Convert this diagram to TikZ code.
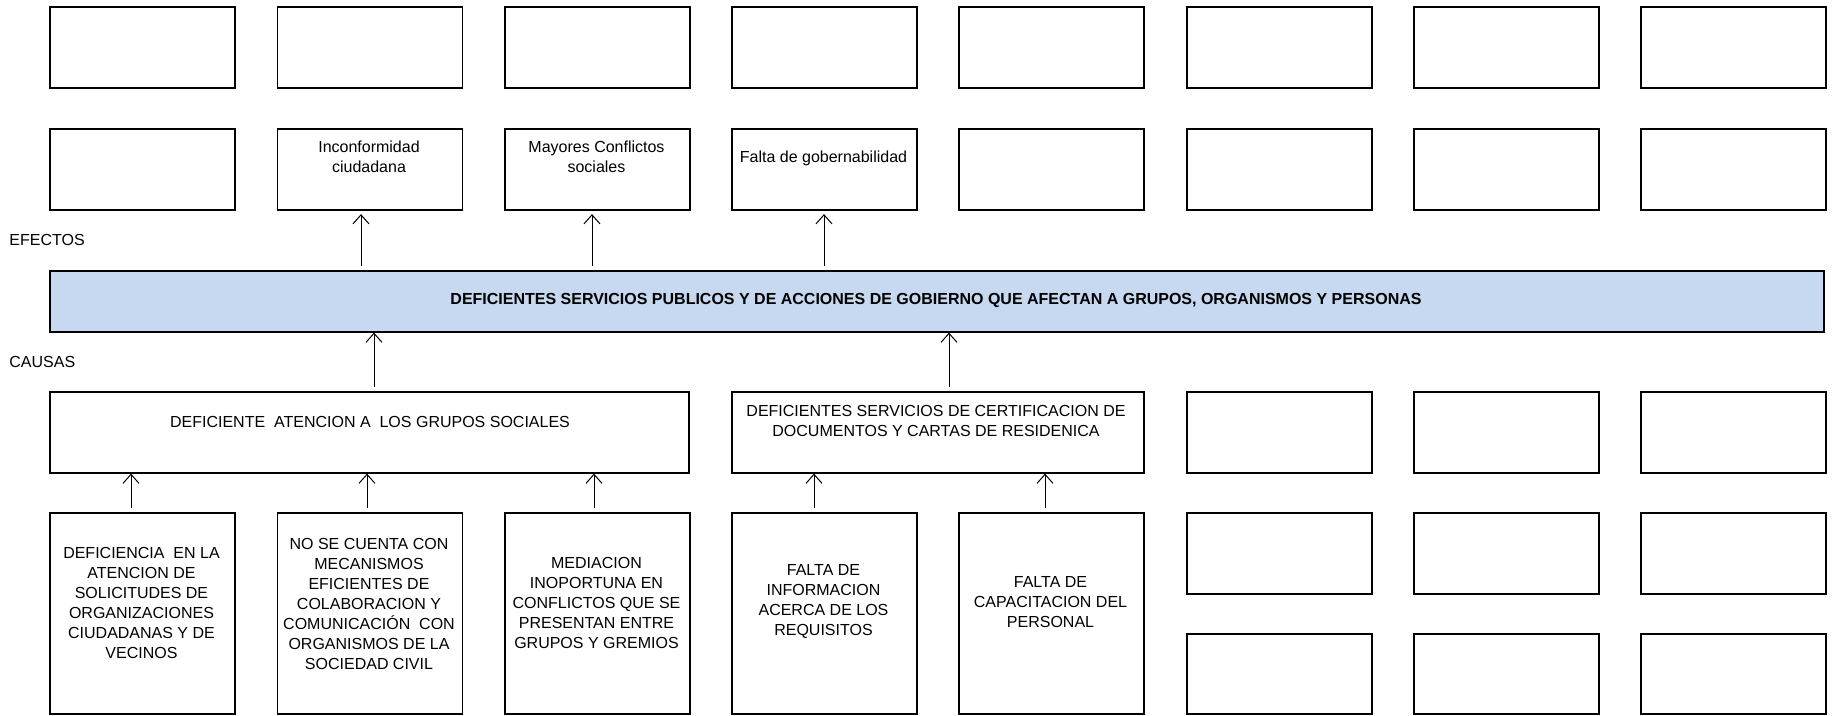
\documentclass[tikz,border=0pt]{standalone}
\usepackage{fontspec}
\setmainfont{Liberation Sans}
\usetikzlibrary{arrows.meta}
\definecolor{barblue}{RGB}{198,217,240}
\begin{document}
\begin{tikzpicture}[x=0.5pt,y=-0.5pt,
  box/.style={draw, line width=0.8pt, inner sep=0pt, anchor=north west, minimum width=92.5pt},
  hA/.style={minimum height=40.5pt},
  hB/.style={minimum height=100.5pt},
  txt/.style={inner sep=0pt, align=center, font=\fontsize{8}{10}\selectfont},
  arr/.style={line width=0.5pt, -{Straight Barb[length=4.5pt,width=8pt,line width=0.5pt]}}]
\useasboundingbox (0,0) rectangle (1832,716);
% row 1
\foreach \i/\x in {1/49,2/276.5,3/504,4/731,5/958,6/1186,7/1413,8/1640}{
  \node[box,hA] (r1c\i) at (\x,6.5) {};
  \node[box,hA] (r2c\i) at (\x,128.5) {};
}
\node[txt] (t21) at (369,157) {Inconformidad\\ciudadana};
\node[txt] (t31) at (596.5,157) {Mayores Conflictos\\sociales};
\node[txt] (t41) at (823.5,158) {Falta de gobernabilidad};
\node[txt, anchor=west] (efe) at (9,240) {EFECTOS};
\node[txt, anchor=west] (cau) at (9,362) {CAUSAS};
% problem bar
\node[draw, line width=0.8pt, fill=barblue, anchor=north west, inner sep=0pt,
      minimum width=887pt, minimum height=30.5pt] (bar) at (49,270) {};
\node[txt, font=\fontsize{8}{10}\selectfont\bfseries] (bart) at (936,300.5)
  {DEFICIENTES SERVICIOS PUBLICOS Y DE ACCIONES DE GOBIERNO QUE AFECTAN A GRUPOS, ORGANISMOS Y PERSONAS};
% cause row
\node[box, hA, minimum width=319.5pt] (c1) at (49,391) {};
\node[box, hA, minimum width=206pt] (c2) at (731,391) {};
\node[txt] (c1t) at (370,422) {DEFICIENTE\ \ ATENCION A\ \ LOS GRUPOS SOCIALES};
\node[txt] (c2t) at (936,421) {DEFICIENTES SERVICIOS DE CERTIFICACION DE\\DOCUMENTOS Y CARTAS DE RESIDENICA};
\foreach \i/\x in {6/1186,7/1413,8/1640}{
  \node[box,hA] (c\i) at (\x,391) {};
  \node[box,hA] (s\i) at (\x,512) {};
  \node[box,minimum height=40pt] (u\i) at (\x,633) {};
}
% bottom tall boxes
\foreach \i/\x in {1/49,2/276.5,3/504,4/731,5/958}{
  \node[box,hB] (b\i) at (\x,512) {};
}
\node[txt] (b1t) at (141.5,603) {DEFICIENCIA\ \ EN LA\\ATENCION DE\\SOLICITUDES DE\\ORGANIZACIONES\\CIUDADANAS Y DE\\VECINOS};
\node[txt] (b2t) at (369,604) {NO SE CUENTA CON\\MECANISMOS\\EFICIENTES DE\\COLABORACION Y\\COMUNICACIÓN\ \ CON\\ORGANISMOS DE LA\\SOCIEDAD CIVIL};
\node[txt] (b3t) at (596.5,603) {MEDIACION\\INOPORTUNA EN\\CONFLICTOS QUE SE\\PRESENTAN ENTRE\\GRUPOS Y GREMIOS};
\node[txt] (b4t) at (823.5,602) {FALTA DE\\INFORMACION\\ACERCA DE LOS\\REQUISITOS};
\node[txt] (b5t) at (1050.5,602) {FALTA DE\\CAPACITACION DEL\\PERSONAL};
% effect arrows
\coordinate (e1) at (361,266);
\coordinate (e2) at (592,266);
\coordinate (e3) at (824,266);
\draw[arr] (e1) -- ([yshift=-1.5pt]e1 |- r2c2.south);
\draw[arr] (e2) -- ([yshift=-1.5pt]e2 |- r2c3.south);
\draw[arr] (e3) -- ([yshift=-1.5pt]e3 |- r2c4.south);
% cause arrows
\coordinate (k1) at (374,387);
\coordinate (k2) at (949,387);
\draw[arr] (k1) -- (k1 |- bar.south);
\draw[arr] (k2) -- (k2 |- bar.south);
% sub-cause arrows
\coordinate (m1) at (131,508);
\coordinate (m2) at (367,508);
\coordinate (m3) at (594,508);
\coordinate (m4) at (814,508);
\coordinate (m5) at (1045,508);
\draw[arr] (m1) -- (m1 |- c1.south);
\draw[arr] (m2) -- (m2 |- c1.south);
\draw[arr] (m3) -- (m3 |- c1.south);
\draw[arr] (m4) -- (m4 |- c2.south);
\draw[arr] (m5) -- (m5 |- c2.south);
\end{tikzpicture}
\end{document}
